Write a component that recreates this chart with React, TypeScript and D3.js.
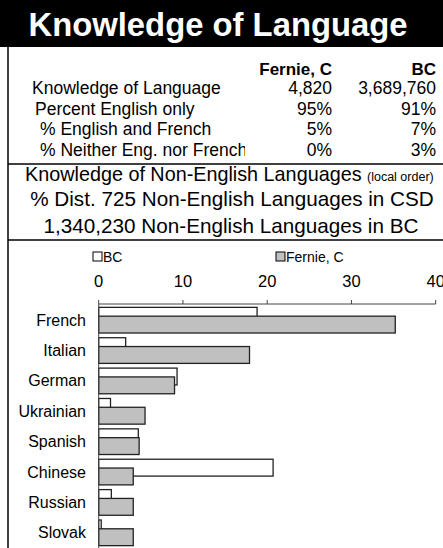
import React from "react";
import * as d3 from "d3";

const categories = ["French", "Italian", "German", "Ukrainian", "Spanish", "Chinese", "Russian", "Slovak"];
const bcValues = [18.8, 3.2, 9.3, 1.4, 4.7, 20.7, 1.5, 0.3];
const fernieValues = [35.2, 17.9, 9.0, 5.5, 4.8, 4.1, 4.1, 4.1];
const xTicks = [0, 10, 20, 30, 40];

const rowLabels = ["Knowledge of Language", "Percent English only", "% English and French", "% Neither Eng. nor French"];
const rowIndent = [32, 35, 40, 40];
const fernieCol = ["4,820", "95%", "5%", "0%"];
const bcCol = ["3,689,760", "91%", "7%", "3%"];

const W = 443;
const H = 548;
const FONT = "'Liberation Sans', Arial, sans-serif";

const App = () => {
  // bar chart scales
  const x = d3.scaleLinear().domain([0, 40]).range([98.7, 435.7]);
  const y = d3.scaleBand().domain(categories).range([305, 548]).paddingInner(0).paddingOuter(0);
  const step = y.step();
  const barH = step * 0.555;
  const span = step * 0.845;
  const groupTop = (c: string) => (y(c) as number) + (step - span) / 2;

  const rowY = d3.scaleLinear().domain([0, 3]).range([94, 156]);

  return (
    <svg width={W} height={H} style={{ position: "absolute", left: 0, top: 0 }} fontFamily={FONT}>
      <defs>
        <clipPath id="rowclip">
          <rect x={0} y={0} width={245} height={H} />
        </clipPath>
      </defs>
      <rect x={0} y={0} width={W} height={H} fill="#fff" />

      {/* title band */}
      <rect x={0} y={0} width={W} height={47} fill="#000" />
      <text x={218} y={36} textAnchor="middle" fill="#fff" fontWeight="bold" fontSize={32.8}>
        Knowledge of Language
      </text>

      {/* borders */}
      <line x1={8} x2={8} y1={47} y2={H} stroke="#000" strokeWidth={1.5} />
      <line x1={8} x2={W} y1={164} y2={164} stroke="#000" strokeWidth={1.5} />
      <line x1={8} x2={W} y1={240} y2={240} stroke="#000" strokeWidth={1.5} />

      {/* summary table */}
      <text x={332} y={75} textAnchor="end" fontWeight="bold" fontSize={17}>Fernie, C</text>
      <text x={436} y={75} textAnchor="end" fontWeight="bold" fontSize={17}>BC</text>
      {rowLabels.map((r, i) => (
        <g key={r} fontSize={17.5}>
          <text x={rowIndent[i]} y={rowY(i)} clipPath="url(#rowclip)">{r}</text>
          <text x={332} y={rowY(i)} textAnchor="end">{fernieCol[i]}</text>
          <text x={436} y={rowY(i)} textAnchor="end">{bcCol[i]}</text>
        </g>
      ))}

      {/* subtitle block */}
      <text x={25} y={181} fontSize={19.8}>
        Knowledge of Non-English Languages <tspan fontSize={12.5}>(local order)</tspan>
      </text>
      <text x={232} y={206} textAnchor="middle" fontSize={20.7}>% Dist. 725 Non-English Languages in CSD</text>
      <text x={231} y={233} textAnchor="middle" fontSize={20.7}>1,340,230 Non-English Languages in BC</text>

      {/* legend */}
      <rect x={93} y={252} width={9} height={9} fill="#fff" stroke="#000" strokeWidth={1} />
      <text x={103} y={262} fontSize={14}>BC</text>
      <rect x={276} y={252} width={9} height={9} fill="#c0c0c0" stroke="#000" strokeWidth={1} />
      <text x={286} y={262} fontSize={14}>Fernie, C</text>

      {/* x axis along the top */}
      <line x1={x(0)} x2={x(40)} y1={304} y2={304} stroke="#444" strokeWidth={1} />
      {xTicks.map((t) => (
        <g key={t}>
          <line x1={x(t)} x2={x(t)} y1={300} y2={304} stroke="#444" strokeWidth={1} />
          <text x={x(t)} y={287} textAnchor="middle" fontSize={16.5}>{t}</text>
        </g>
      ))}

      {/* bars: BC behind, Fernie on top */}
      {categories.map((c, i) => (
        <g key={c}>
          <rect x={x(0)} y={groupTop(c)} width={x(bcValues[i]) - x(0)} height={barH}
            fill="#fff" stroke="#222" strokeWidth={1.3} />
          <rect x={x(0)} y={groupTop(c) + span - barH} width={x(fernieValues[i]) - x(0)} height={barH}
            fill="#c0c0c0" stroke="#222" strokeWidth={1.3} />
          <text x={86} y={(y(c) as number) + step / 2 + 5.5} textAnchor="end" fontSize={16}>{c}</text>
        </g>
      ))}

      {/* y axis line */}
      <line x1={x(0)} x2={x(0)} y1={304} y2={H} stroke="#444" strokeWidth={1} />
    </svg>
  );
};

export default App;
